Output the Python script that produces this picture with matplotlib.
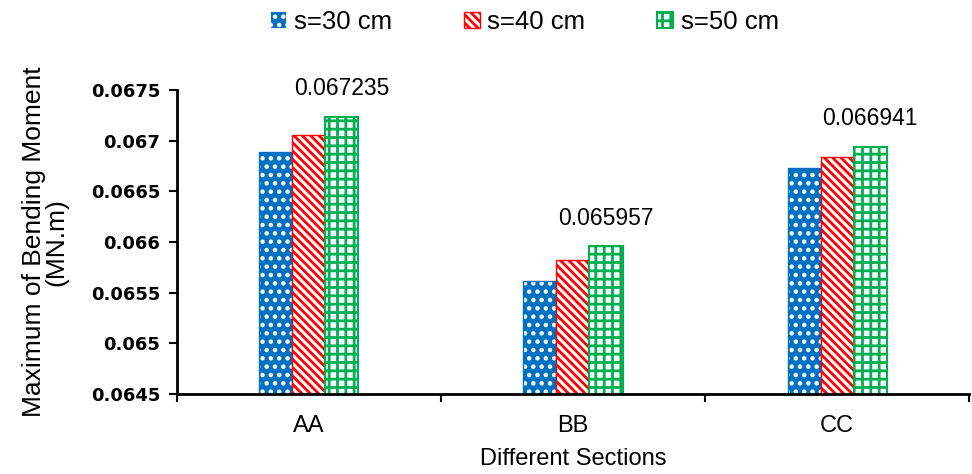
import numpy as np
import matplotlib
matplotlib.use('Agg')
import matplotlib.pyplot as plt

plt.rcParams['font.family'] = ['Liberation Sans', 'DejaVu Sans']
plt.rcParams['hatch.linewidth'] = 2.0

sections = ['AA', 'BB', 'CC']
s30 = [0.06689, 0.06561, 0.06673]
s40 = [0.06706, 0.06582, 0.06684]
s50 = [0.067235, 0.065957, 0.066941]
yticks = [0.0645, 0.065, 0.0655, 0.066, 0.0665, 0.067, 0.0675]
ytick_labels = ['0.0645', '0.065', '0.0655', '0.066', '0.0665', '0.067', '0.0675']

blue = '#0070C0'
red = '#FF0000'
green = '#00B050'

fig = plt.figure(figsize=(9.72, 4.74), dpi=100)
ax = fig.add_axes([0.182, 0.169, 0.815, 0.641])

x = np.arange(len(sections))
w = 0.125

b1 = ax.bar(x - w, s30, w, color=blue, edgecolor='white', hatch='..', linewidth=0, label='s=30 cm')
ax.bar(x - w, s30, w, fill=False, edgecolor=blue, linewidth=1)
b2 = ax.bar(x, s40, w, color='white', edgecolor=red, hatch='\\\\\\\\', linewidth=1, label='s=40 cm')
b3 = ax.bar(x + w, s50, w, color='white', edgecolor=green, hatch='++', linewidth=1.5, label='s=50 cm')

for xi, v in zip(x + w, s50):
    ax.annotate(f'{v:.6f}', (xi, v), xytext=(0, 12), textcoords='offset points',
                ha='center', va='bottom', fontsize=16.5)

ax.set_ylim(0.0645, 0.0675)
ax.set_yticks(yticks)
ax.set_yticklabels(ytick_labels, fontfamily='DejaVu Sans', fontweight='bold', fontsize=13)
ax.set_xlim(-0.5, 2.5)
ax.set_xticks(x)
ax.set_xticklabels(sections, fontsize=17)
ax.tick_params(axis='x', which='major', length=0, pad=15)
ax.set_xticks([-0.5, 0.5, 1.5, 2.5], minor=True)
ax.tick_params(axis='x', which='minor', length=6, width=1.5, direction='out')
ax.tick_params(axis='y', length=6, width=1.5, direction='out', pad=6)

for side in ['top', 'right']:
    ax.spines[side].set_visible(False)
for side in ['left', 'bottom']:
    ax.spines[side].set_linewidth(2)

ax.set_xlabel('Different Sections', fontsize=17, labelpad=8)
ax.set_ylabel('Maximum of Bending Moment\n(MN.m)', fontsize=19, linespacing=0.95, labelpad=16)

fig.legend(handles=[b1, b2, b3], loc='center', bbox_to_anchor=(0.54, 0.953), ncol=3,
           frameon=False, fontsize=18.5, handlelength=0.6, handleheight=0.6,
           handletextpad=0.3, columnspacing=2.8)

fig.savefig('out.png', dpi=100)
